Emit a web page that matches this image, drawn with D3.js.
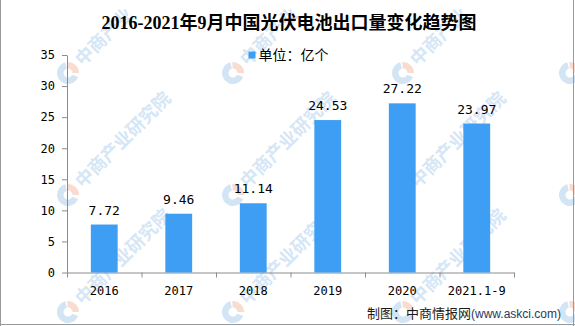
<!DOCTYPE html>
<html>
<head>
<meta charset="utf-8">
<script src="https://cdn.jsdelivr.net/npm/d3@7"></script>
<style>
  body { margin: 0; background: #fff; }
  svg { display: block; }
</style>
</head>
<body>
<svg id="chart" width="575" height="326"></svg>
<script>
// Export volume of PV cells, unit: 100 million pieces
const categories = ["2016", "2017", "2018", "2019", "2020", "2021.1-9"];
const exportVolume = [7.72, 9.46, 11.14, 24.53, 27.22, 23.97];
const yTicks = [0, 5, 10, 15, 20, 25, 30, 35];

const titleText = "2016-2021年9月中国光伏电池出口量变化趋势图";
const legendText = "单位：亿个";
const sourceLabel = "制图：中商情报网";
const sourceUrl = "(www.askci.com)";
const watermarkText = "中商产业研究院";
const watermarkCols = [68, 233, 403, 570];
const watermarkRows = [73, 195, 312];

const W = 575, H = 326;
const plot = { left: 67, right: 514, top: 55, bottom: 272.5 };
const barColor = "#3d9ef3";
const axisColor = "#8c8c8c";
const monoFont = "'DejaVu Sans Mono', 'Liberation Mono', monospace";
const cjkFont = "'Noto Sans CJK SC', sans-serif";

const svg = d3.select("#chart");

// --- watermark layer (behind everything) ---
const wm = svg.append("g").attr("class", "watermark");
const logoArc = d3.arc().innerRadius(4.5).outerRadius(11);
const wmSize = 18, wmStart = 15, wmShift = 6, k45 = Math.SQRT1_2;

// how many characters of the rotated watermark stay fully inside the canvas
function fittingChars(cx, cy) {
  let n = 0;
  for (let i = 0; i < watermarkText.length; i++) {
    const uMin = wmStart + wmSize * i, uMax = uMin + wmSize;
    const vTop = wmShift - 16, vBot = wmShift + 2;
    const minY = cy - k45 * uMax + k45 * vTop;
    const maxX = cx + k45 * uMax + k45 * vBot;
    const minX = cx + k45 * uMin + k45 * vTop;
    if (minY < 0 || maxX > W || minX < 0) break;
    n = i + 1;
  }
  return n;
}

watermarkRows.forEach(cy => {
  watermarkCols.forEach(cx => {
    const g = wm.append("g").attr("transform", `translate(${cx},${cy})`);
    g.append("path")
      .attr("d", logoArc({ startAngle: 0.62 * Math.PI, endAngle: 1.92 * Math.PI }))
      .attr("fill", "#d3e5f5");
    g.append("path")
      .attr("d", logoArc({ startAngle: -0.02 * Math.PI, endAngle: 0.5 * Math.PI }))
      .attr("fill", "#f9dccf");
    const n = fittingChars(cx, cy);
    if (n > 0) {
      g.append("text")
        .attr("transform", `rotate(-45) translate(${wmStart},${wmShift})`)
        .attr("font-family", cjkFont)
        .attr("font-weight", "bold")
        .attr("font-size", wmSize)
        .attr("fill", "#d5e6f6")
        .text(watermarkText.slice(0, n));
    }
  });
});

// --- scales ---
const x = d3.scaleBand().domain(categories).range([plot.left, plot.right]).padding(0);
const barW = x.bandwidth() * 0.36;
const y = d3.scaleLinear().domain([0, 35]).range([plot.bottom, plot.top]);
const xEdges = d3.scaleLinear().domain([0, categories.length]).range([plot.left, plot.right]);

// --- title ---
svg.append("text")
  .attr("x", 289).attr("y", 29)
  .attr("text-anchor", "middle")
  .attr("font-family", "'Liberation Serif', 'Noto Sans CJK SC', serif")
  .attr("font-weight", "bold")
  .attr("font-size", 18)
  .attr("fill", "#000")
  .text(titleText);

// --- legend ---
svg.append("rect")
  .attr("x", 248.5).attr("y", 51.5).attr("width", 7).attr("height", 7)
  .attr("fill", barColor);
svg.append("text")
  .attr("x", 258.5).attr("y", 60)
  .attr("font-family", cjkFont)
  .attr("font-size", 14)
  .attr("fill", "#000")
  .text(legendText);

// --- y axis ---
const yAxis = svg.append("g")
  .attr("transform", `translate(${plot.left},0)`)
  .call(d3.axisLeft(y).tickValues(yTicks).tickSize(5).tickPadding(7).tickSizeOuter(0));
yAxis.select(".domain").attr("stroke", axisColor);
yAxis.selectAll(".tick line").attr("stroke", axisColor);
yAxis.selectAll(".tick text")
  .attr("font-family", monoFont).attr("font-size", 12).attr("fill", "#000");

// --- x axis: ticks at band edges, labels at band centres ---
const xAxis = svg.append("g")
  .attr("transform", `translate(0,${plot.bottom})`)
  .call(d3.axisBottom(xEdges).tickValues(d3.range(categories.length + 1))
    .tickSize(5).tickFormat("").tickSizeOuter(0));
xAxis.select(".domain").attr("stroke", axisColor);
xAxis.selectAll(".tick line").attr("stroke", axisColor);

svg.append("g").selectAll("text")
  .data(categories)
  .join("text")
  .attr("x", d => x(d) + x.bandwidth() / 2)
  .attr("y", 295)
  .attr("text-anchor", "middle")
  .attr("font-family", monoFont)
  .attr("font-size", 12)
  .attr("fill", "#000")
  .text(d => d);

// --- bars ---
const data = categories.map((c, i) => ({ c, v: exportVolume[i] }));
svg.append("g").selectAll("rect")
  .data(data)
  .join("rect")
  .attr("x", d => x(d.c) + (x.bandwidth() - barW) / 2)
  .attr("y", d => y(d.v))
  .attr("width", barW)
  .attr("height", d => y(0) - y(d.v))
  .attr("fill", barColor);

// --- value labels ---
svg.append("g").selectAll("text")
  .data(data)
  .join("text")
  .attr("x", d => x(d.c) + x.bandwidth() / 2)
  .attr("y", d => y(d.v) - 10)
  .attr("text-anchor", "middle")
  .attr("font-family", monoFont)
  .attr("font-size", 13)
  .attr("fill", "#000")
  .text(d => d.v.toFixed(2));

// --- source note ---
const src = svg.append("text")
  .attr("x", 561).attr("y", 318)
  .attr("text-anchor", "end");
src.append("tspan")
  .attr("font-family", cjkFont).attr("font-size", 13).attr("fill", "#1a1a1a")
  .text(sourceLabel);
src.append("tspan")
  .attr("font-family", "'Liberation Sans', sans-serif").attr("font-size", 12).attr("fill", "#253a63")
  .text(sourceUrl);

// --- frame: left, right and bottom edges ---
const frame = svg.append("g").attr("stroke", "#9a9a9a").attr("stroke-width", 1);
frame.append("line").attr("x1", 0.5).attr("y1", 0).attr("x2", 0.5).attr("y2", H);
frame.append("line").attr("x1", W - 1.5).attr("y1", 0).attr("x2", W - 1.5).attr("y2", H);
frame.append("line").attr("x1", 0).attr("y1", H - 1.5).attr("x2", W).attr("y2", H - 1.5);
</script>
</body>
</html>
